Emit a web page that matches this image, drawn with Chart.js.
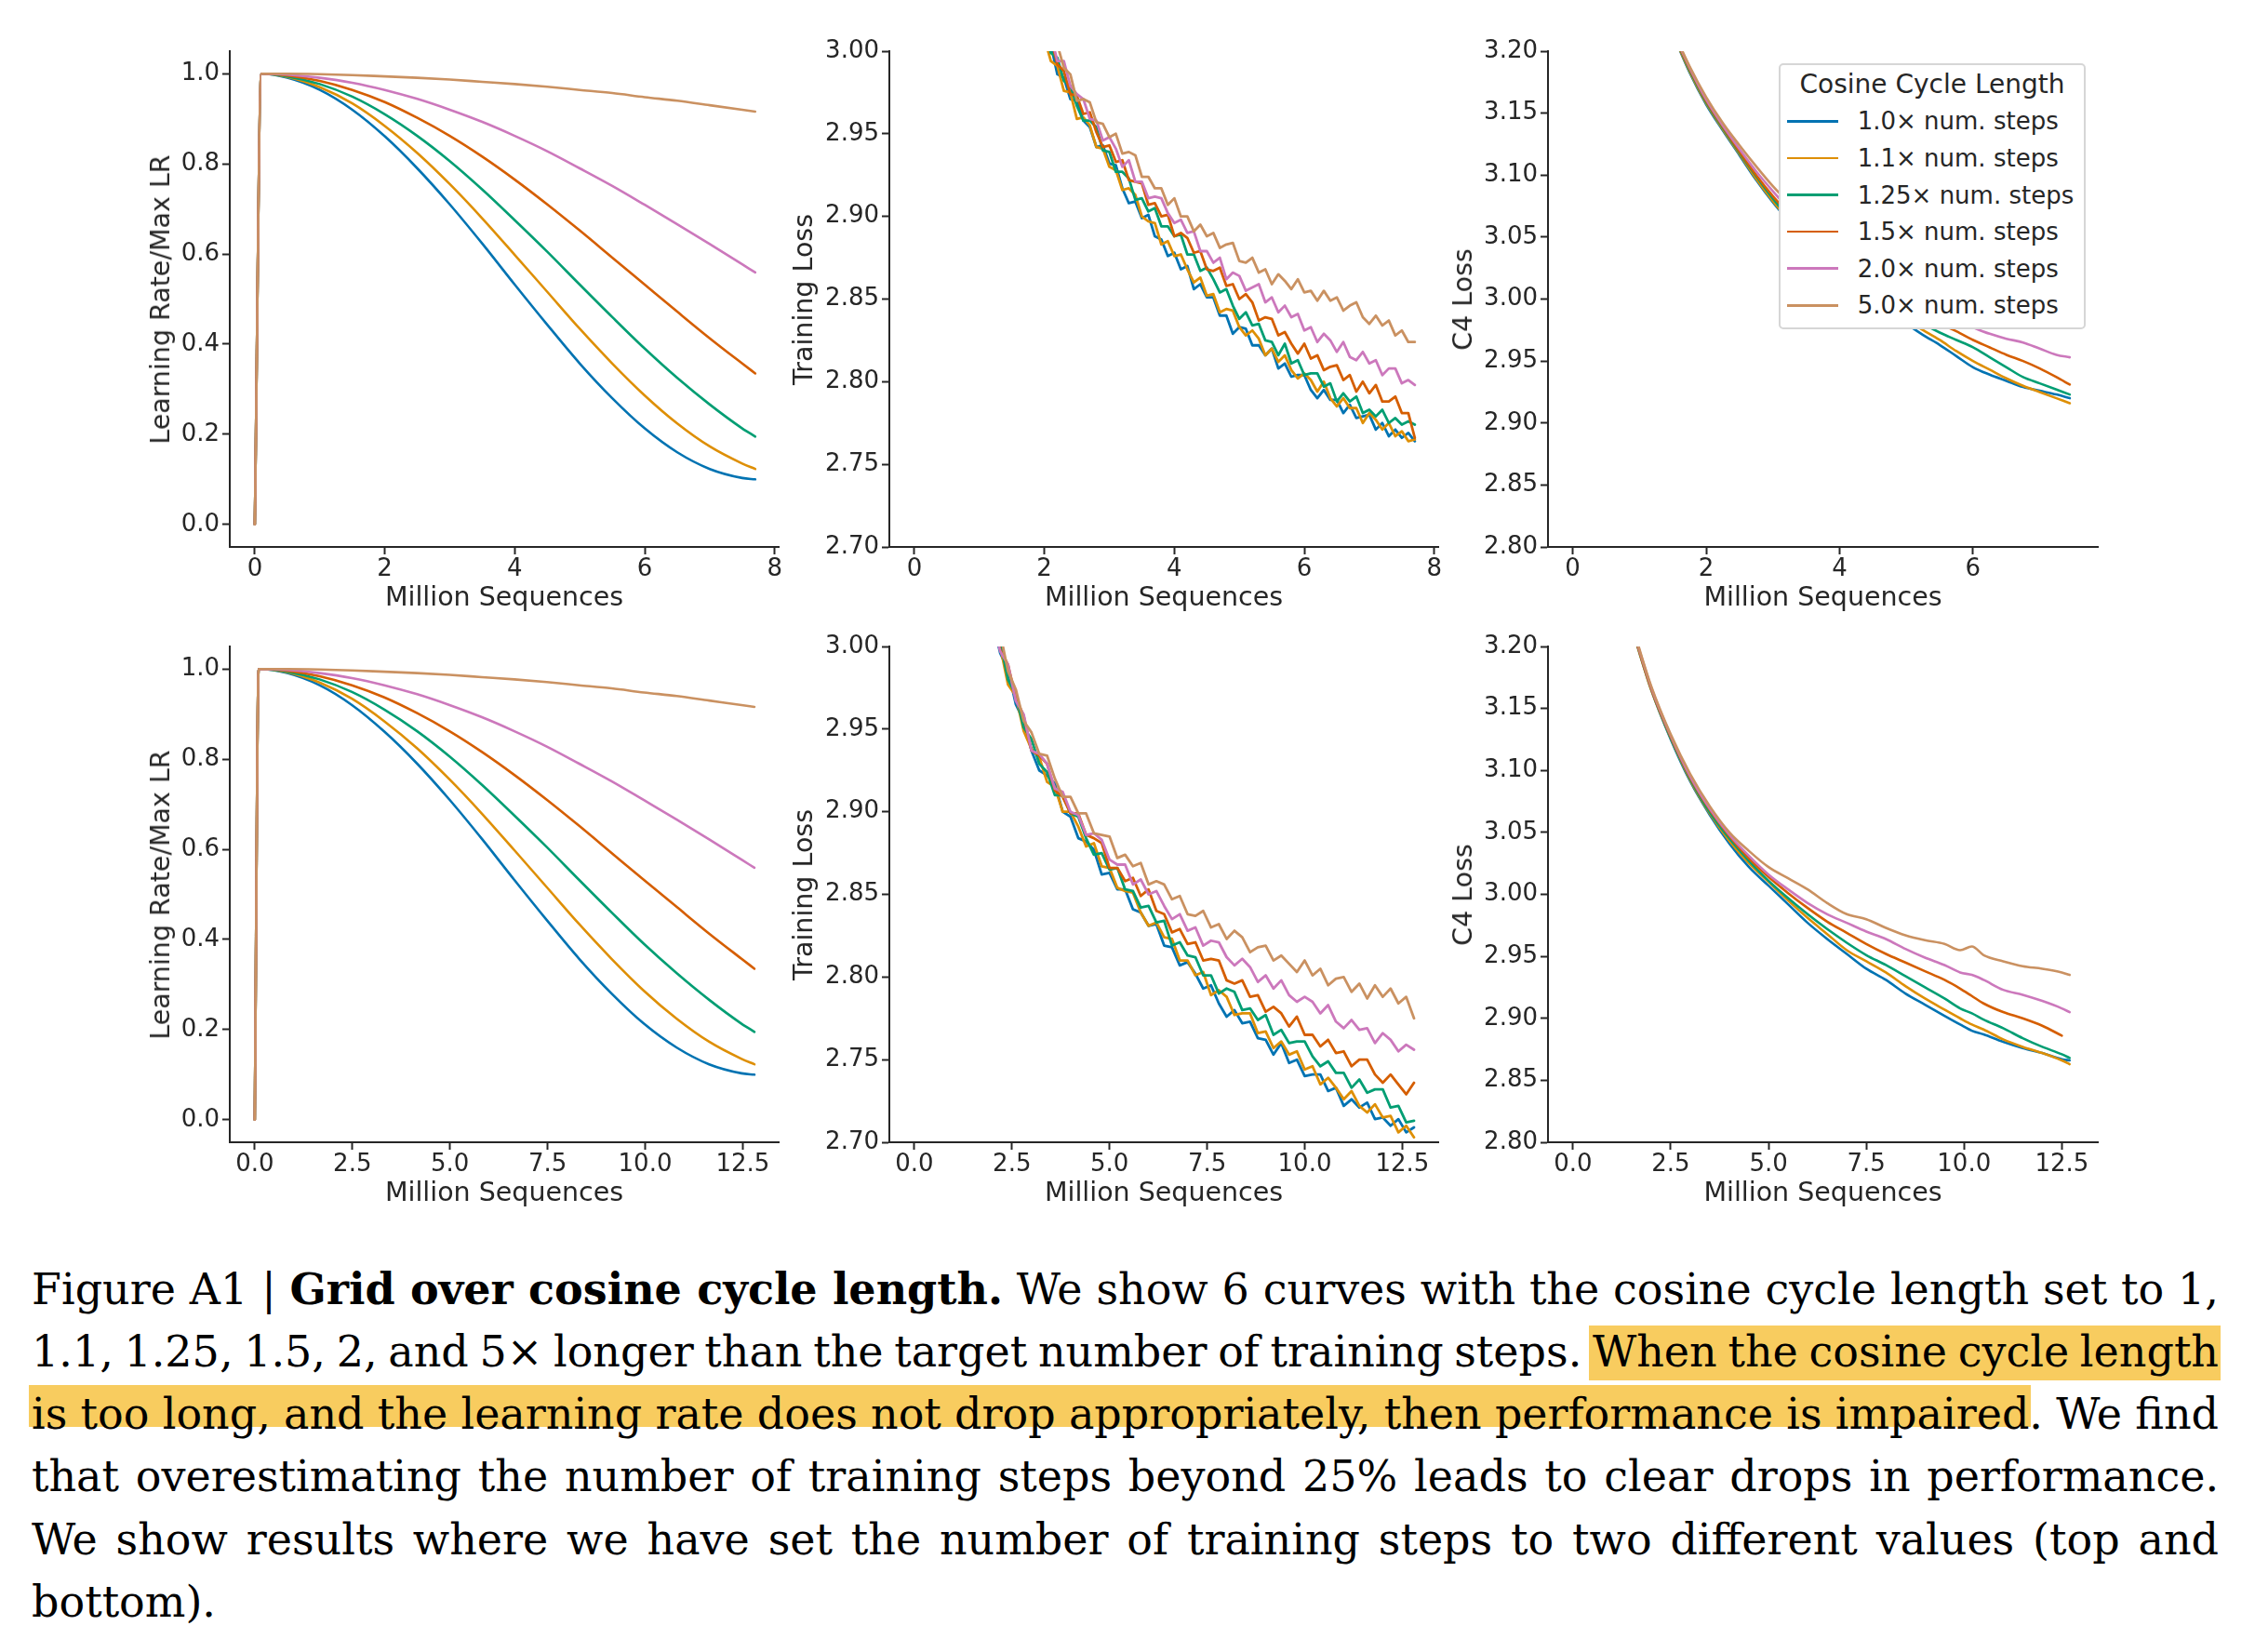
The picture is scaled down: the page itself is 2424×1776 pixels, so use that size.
<!DOCTYPE html>
<html><head><meta charset="utf-8">
<script src="https://cdn.jsdelivr.net/npm/chart.js@4.4.0/dist/chart.umd.min.js"></script>
<style>
html,body{margin:0;padding:0;background:#fff;}
body{width:2424px;height:1776px;position:relative;overflow:hidden;font-family:'DejaVu Sans',sans-serif;color:#262626;}
canvas{position:absolute;}
.xt{position:absolute;font-size:28.5px;line-height:34px;transform:translate(-50%,-50%);white-space:nowrap;}
.yt{position:absolute;font-size:28.5px;line-height:34px;transform:translate(-50%,-50%) rotate(-90deg);white-space:nowrap;}
#legend{position:absolute;left:1912px;top:68px;width:330px;height:286px;box-sizing:border-box;border:2px solid #d6d6d6;border-radius:5px;background:#fff;z-index:5;}
#legend .lt{position:absolute;left:0;width:100%;text-align:center;font-size:28px;line-height:34px;white-space:nowrap;}
#legend .li{position:absolute;height:2.6px;}
#legend .lx{position:absolute;font-size:26px;line-height:32px;white-space:nowrap;}
.cap{position:absolute;left:34px;top:0;font-family:'DejaVu Serif',serif;font-size:46px;color:#000;white-space:nowrap;line-height:normal;z-index:2;}
.hl{position:absolute;background:#f8cc5f;z-index:1;}
</style></head><body>
<div id="legend"></div>
<div class="cap" data-baseline="1402" data-justify="1">Figure A1 | <b>Grid over cosine cycle length.</b> We show 6 curves with the cosine cycle length set to 1,</div>
<div class="cap" data-baseline="1469" data-justify="1">1.1, 1.25, 1.5, 2, and 5× longer than the target number of training steps. <span id="h2span">When the cosine cycle length</span></div>
<div class="cap" data-baseline="1536" data-justify="1"><span id="h3span">is too long, and the learning rate does not drop appropriately, then performance is impaired</span>. We find</div>
<div class="cap" data-baseline="1603" data-justify="1">that overestimating the number of training steps beyond 25% leads to clear drops in performance.</div>
<div class="cap" data-baseline="1671" data-justify="1">We show results where we have set the number of training steps to two different values (top and</div>
<div class="cap" data-baseline="1738" data-justify="0">bottom).</div>
<script>
// ---------------- data ----------------
const seriesNames = ['1.0× num. steps', '1.1× num. steps', '1.25× num. steps', '1.5× num. steps', '2.0× num. steps', '5.0× num. steps'];
const colors = ['#0173b2', '#de8f05', '#029e73', '#d55e00', '#cc78bc', '#ca9161'];

const xTicksTop = [0, 2, 4, 6, 8];
const xTicksTopC4 = [0, 2, 4, 6];
const xTicksBottom = [0, 2.5, 5, 7.5, 10, 12.5];
const lrYTicks = [0, 0.2, 0.4, 0.6, 0.8, 1.0];
const tlYTicks = [2.70, 2.75, 2.80, 2.85, 2.90, 2.95, 3.00];
const c4YTicks = [2.80, 2.85, 2.90, 2.95, 3.00, 3.05, 3.10, 3.15, 3.20];

// Learning rate schedules (fraction of max LR)
const lrTopX = [0, 0.1, 0.5, 1.0, 1.5, 2.0, 2.5, 3.0, 3.5, 4.0, 4.5, 5.0, 5.5, 6.0, 6.5, 7.0, 7.5, 7.7];
const lrBotX = [0, 0.1, 0.83, 1.66, 2.49, 3.32, 4.16, 4.99, 5.82, 6.65, 7.48, 8.31, 9.14, 9.97, 10.81, 11.64, 12.47, 12.8];
const lrBlue   = [0, 1.0, 0.991, 0.964, 0.920, 0.861, 0.790, 0.710, 0.623, 0.532, 0.443, 0.357, 0.280, 0.213, 0.160, 0.123, 0.103, 0.100];
const lrOrange = [0, 1.0, 0.993, 0.970, 0.934, 0.884, 0.824, 0.755, 0.679, 0.598, 0.516, 0.434, 0.357, 0.286, 0.224, 0.173, 0.135, 0.123];
const lrGreen  = [0, 1.0, 0.994, 0.977, 0.949, 0.910, 0.862, 0.806, 0.743, 0.675, 0.605, 0.532, 0.460, 0.390, 0.325, 0.266, 0.213, 0.195];
const lrRed    = [0, 1.0, 0.996, 0.984, 0.964, 0.937, 0.902, 0.862, 0.816, 0.765, 0.710, 0.652, 0.592, 0.532, 0.472, 0.413, 0.357, 0.335];
const lrPink   = [0, 1.0, 0.998, 0.991, 0.980, 0.964, 0.944, 0.920, 0.893, 0.862, 0.828, 0.790, 0.751, 0.709, 0.666, 0.622, 0.577, 0.559];
const lrTan    = [0, 1.0, 1.000, 0.999, 0.997, 0.994, 0.991, 0.987, 0.982, 0.977, 0.971, 0.964, 0.957, 0.948, 0.940, 0.930, 0.920, 0.916];

// Training loss, top run
const tlTopX = [2.0,2.1,2.2,2.3,2.4,2.5,2.6,2.7,2.8,2.9,3.0,3.1,3.2,3.3,3.4,3.5,3.6,3.7,3.8,3.9,4.0,4.1,4.2,4.3,4.4,4.5,4.6,4.7,4.8,4.9,5.0,5.1,5.2,5.3,5.4,5.5,5.6,5.7,5.8,5.9,6.0,6.1,6.2,6.3,6.4,6.5,6.6,6.7,6.8,6.9,7.0,7.1,7.2,7.3,7.4,7.5,7.6,7.7];
const tlTopBlue = [3.012,3.004,2.986,2.984,2.971,2.970,2.958,2.954,2.942,2.943,2.932,2.931,2.917,2.908,2.909,2.899,2.901,2.888,2.886,2.876,2.878,2.868,2.870,2.856,2.859,2.851,2.851,2.840,2.840,2.829,2.833,2.832,2.822,2.822,2.816,2.820,2.808,2.811,2.803,2.804,2.804,2.795,2.790,2.795,2.789,2.789,2.781,2.786,2.778,2.779,2.780,2.771,2.775,2.767,2.771,2.766,2.769,2.764];
const tlTopOrange = [3.008,2.994,2.991,2.976,2.975,2.959,2.960,2.955,2.942,2.941,2.930,2.928,2.916,2.917,2.913,2.900,2.897,2.896,2.883,2.885,2.876,2.877,2.868,2.860,2.863,2.852,2.853,2.842,2.844,2.843,2.833,2.828,2.831,2.826,2.816,2.820,2.812,2.816,2.807,2.802,2.805,2.801,2.794,2.800,2.790,2.785,2.790,2.784,2.784,2.775,2.781,2.777,2.771,2.775,2.767,2.770,2.764,2.765];
const tlTopGreen = [3.014,2.999,2.996,2.982,2.979,2.967,2.958,2.958,2.954,2.940,2.939,2.927,2.927,2.923,2.910,2.911,2.903,2.905,2.894,2.894,2.888,2.889,2.877,2.877,2.867,2.869,2.862,2.854,2.856,2.846,2.838,2.842,2.834,2.835,2.825,2.824,2.816,2.823,2.811,2.813,2.804,2.805,2.805,2.797,2.799,2.788,2.793,2.788,2.791,2.781,2.783,2.779,2.783,2.775,2.778,2.774,2.776,2.774];
const tlTopRed = [3.016,3.008,2.992,2.988,2.974,2.973,2.962,2.963,2.951,2.942,2.943,2.933,2.934,2.922,2.921,2.920,2.907,2.908,2.900,2.901,2.888,2.890,2.887,2.878,2.879,2.868,2.867,2.869,2.858,2.859,2.850,2.853,2.848,2.837,2.839,2.838,2.828,2.830,2.823,2.817,2.823,2.814,2.816,2.807,2.809,2.810,2.801,2.804,2.794,2.800,2.793,2.798,2.788,2.788,2.791,2.781,2.781,2.766];
const tlTopPink = [3.015,3.010,2.994,2.994,2.979,2.974,2.971,2.959,2.958,2.946,2.948,2.941,2.930,2.934,2.921,2.921,2.911,2.912,2.911,2.902,2.896,2.898,2.890,2.891,2.879,2.879,2.872,2.875,2.862,2.866,2.864,2.855,2.857,2.859,2.848,2.851,2.842,2.846,2.839,2.841,2.831,2.833,2.824,2.829,2.825,2.818,2.824,2.815,2.813,2.818,2.811,2.813,2.804,2.808,2.808,2.799,2.801,2.798];
const tlTopTan = [3.020,3.006,3.004,2.990,2.986,2.970,2.971,2.969,2.957,2.956,2.948,2.950,2.938,2.939,2.937,2.924,2.924,2.917,2.917,2.907,2.911,2.900,2.900,2.891,2.895,2.888,2.890,2.881,2.883,2.884,2.873,2.872,2.875,2.866,2.868,2.859,2.865,2.861,2.856,2.862,2.854,2.855,2.849,2.855,2.849,2.851,2.843,2.846,2.848,2.839,2.835,2.840,2.834,2.837,2.828,2.831,2.824,2.824];

// Training loss, bottom run
const tlBotX = [2.0,2.2,2.4,2.6,2.8,3.0,3.2,3.4,3.6,3.8,4.0,4.2,4.4,4.6,4.8,5.0,5.2,5.4,5.6,5.8,6.0,6.2,6.4,6.6,6.8,7.0,7.2,7.4,7.6,7.8,8.0,8.2,8.4,8.6,8.8,9.0,9.2,9.4,9.6,9.8,10.0,10.2,10.4,10.6,10.8,11.0,11.2,11.4,11.6,11.8,12.0,12.2,12.4,12.6,12.8];
const tlBotBlue = [3.016,2.996,2.986,2.965,2.955,2.937,2.925,2.922,2.917,2.900,2.897,2.884,2.882,2.877,2.862,2.863,2.853,2.853,2.841,2.839,2.831,2.832,2.819,2.818,2.807,2.809,2.802,2.793,2.795,2.784,2.776,2.780,2.772,2.773,2.763,2.762,2.753,2.760,2.748,2.750,2.740,2.741,2.741,2.731,2.733,2.722,2.726,2.721,2.724,2.714,2.715,2.710,2.714,2.706,2.709];
const tlBotOrange = [3.012,3.000,2.977,2.970,2.949,2.938,2.933,2.918,2.915,2.900,2.900,2.891,2.879,2.881,2.867,2.866,2.854,2.852,2.851,2.839,2.831,2.833,2.824,2.823,2.810,2.810,2.801,2.803,2.789,2.792,2.788,2.777,2.778,2.778,2.766,2.767,2.757,2.761,2.753,2.755,2.744,2.746,2.735,2.739,2.733,2.726,2.731,2.722,2.718,2.723,2.715,2.716,2.706,2.710,2.703];
const tlBotGreen = [3.016,3.003,2.980,2.971,2.951,2.944,2.929,2.924,2.910,2.910,2.899,2.897,2.884,2.874,2.875,2.865,2.866,2.853,2.852,2.842,2.843,2.833,2.834,2.819,2.821,2.813,2.812,2.801,2.801,2.790,2.793,2.791,2.780,2.781,2.774,2.777,2.765,2.768,2.760,2.761,2.761,2.752,2.746,2.749,2.742,2.742,2.733,2.738,2.730,2.732,2.732,2.721,2.722,2.712,2.713];
const tlBotRed = [3.019,2.998,2.989,2.969,2.958,2.937,2.934,2.929,2.913,2.909,2.899,2.899,2.886,2.884,2.881,2.866,2.866,2.858,2.860,2.849,2.853,2.840,2.838,2.827,2.829,2.820,2.821,2.810,2.811,2.810,2.798,2.796,2.798,2.788,2.789,2.779,2.782,2.778,2.770,2.776,2.765,2.765,2.758,2.762,2.754,2.755,2.746,2.750,2.750,2.741,2.736,2.741,2.735,2.729,2.736];
const tlBotPink = [3.016,2.997,2.989,2.967,2.959,2.937,2.935,2.929,2.914,2.912,2.900,2.898,2.886,2.887,2.883,2.871,2.868,2.868,2.856,2.859,2.850,2.852,2.843,2.835,2.838,2.828,2.830,2.819,2.822,2.821,2.812,2.807,2.811,2.806,2.797,2.801,2.793,2.798,2.789,2.785,2.788,2.785,2.778,2.783,2.773,2.769,2.774,2.768,2.769,2.760,2.766,2.762,2.755,2.759,2.756];
const tlBotTan = [3.022,3.008,2.985,2.974,2.955,2.948,2.935,2.934,2.920,2.909,2.909,2.899,2.899,2.887,2.886,2.885,2.872,2.874,2.867,2.869,2.856,2.858,2.856,2.847,2.849,2.838,2.837,2.840,2.830,2.832,2.823,2.828,2.824,2.815,2.818,2.819,2.810,2.813,2.808,2.803,2.810,2.801,2.805,2.795,2.799,2.800,2.791,2.796,2.787,2.795,2.788,2.793,2.784,2.788,2.775];

// C4 evaluation loss, top run
const c4TopX = [1.5,1.75,2.0,2.25,2.5,2.75,3.0,3.25,3.5,3.75,4.0,4.25,4.5,4.75,5.0,5.25,5.5,5.75,6.0,6.25,6.5,6.75,7.0,7.25,7.45];
const c4TopBlue   = [3.214,3.183,3.157,3.136,3.116,3.096,3.078,3.062,3.047,3.033,3.020,3.009,2.998,2.989,2.980,2.971,2.963,2.954,2.945,2.939,2.934,2.929,2.926,2.923,2.920];
const c4TopOrange = [3.214,3.184,3.158,3.137,3.117,3.097,3.079,3.063,3.048,3.035,3.022,3.011,3.001,2.992,2.983,2.975,2.967,2.958,2.950,2.943,2.936,2.930,2.925,2.920,2.916];
const c4TopGreen  = [3.215,3.185,3.159,3.138,3.118,3.099,3.081,3.065,3.051,3.038,3.026,3.015,3.005,2.996,2.988,2.980,2.973,2.967,2.961,2.953,2.945,2.937,2.932,2.927,2.923];
const c4TopRed    = [3.215,3.186,3.160,3.139,3.119,3.100,3.083,3.068,3.054,3.042,3.031,3.021,3.011,3.002,2.994,2.987,2.980,2.974,2.967,2.961,2.955,2.950,2.944,2.937,2.931];
const c4TopPink   = [3.216,3.187,3.161,3.140,3.121,3.103,3.087,3.072,3.059,3.047,3.036,3.026,3.017,3.009,3.001,2.994,2.988,2.982,2.977,2.972,2.968,2.965,2.960,2.955,2.953];
const c4TopTan    = [3.217,3.188,3.163,3.142,3.124,3.107,3.091,3.077,3.064,3.053,3.043,3.034,3.026,3.019,3.013,3.007,3.002,2.998,2.994,2.991,2.988,2.985,2.983,2.981,2.979];

// C4 evaluation loss, bottom run
const c4BotX = [1.6,2.0,2.5,3.0,3.5,4.0,4.5,5.0,5.5,6.0,6.5,7.0,7.5,8.0,8.5,9.0,9.5,9.9,10.2,10.5,11.0,11.5,12.0,12.5,12.7];
const c4BotBlue   = [3.205,3.165,3.125,3.091,3.064,3.041,3.022,3.007,2.992,2.977,2.964,2.952,2.940,2.931,2.920,2.911,2.902,2.895,2.890,2.887,2.881,2.876,2.872,2.867,2.866];
const c4BotOrange = [3.205,3.165,3.126,3.092,3.065,3.043,3.025,3.010,2.995,2.981,2.968,2.955,2.946,2.937,2.926,2.916,2.907,2.900,2.895,2.891,2.883,2.877,2.872,2.866,2.863];
const c4BotGreen  = [3.206,3.166,3.126,3.093,3.066,3.045,3.027,3.011,2.997,2.984,2.972,2.961,2.951,2.943,2.934,2.925,2.916,2.908,2.904,2.899,2.892,2.884,2.877,2.871,2.868];
const c4BotRed    = [3.206,3.166,3.127,3.094,3.068,3.047,3.029,3.014,3.001,2.989,2.978,2.969,2.960,2.952,2.945,2.938,2.931,2.924,2.918,2.912,2.905,2.900,2.894,2.886,null];
const c4BotPink   = [3.207,3.167,3.128,3.095,3.069,3.048,3.031,3.016,3.004,2.993,2.984,2.977,2.970,2.964,2.956,2.949,2.943,2.937,2.935,2.931,2.923,2.919,2.914,2.908,2.905];
const c4BotTan    = [3.208,3.168,3.129,3.097,3.071,3.050,3.035,3.022,3.013,3.004,2.993,2.984,2.980,2.973,2.967,2.963,2.960,2.955,2.958,2.951,2.946,2.942,2.940,2.937,2.935];

// ---------------- drawing ----------------
Chart.defaults.font.family = "'DejaVu Sans'";
const INK = '#262626';
const fmtInt = v => String(Math.round(v));
const fmt1 = v => v.toFixed(1);
const fmt2 = v => v.toFixed(2);

const panels = [
  {L:247, T:55, R:837, B:588, xMin:-0.385, xMax:8.06, xTicks:xTicksTop, xFmt:fmtInt, yMin:-0.05, yMax:1.05, yTicks:lrYTicks, yFmt:fmt1, x:lrTopX, series:[lrBlue,lrOrange,lrGreen,lrRed,lrPink,lrTan], smooth:true, lw:2.6, ylab:'Learning Rate/Max LR', ylx:173},
  {L:956, T:55, R:1546, B:588, xMin:-0.385, xMax:8.06, xTicks:xTicksTop, xFmt:fmtInt, yMin:2.70, yMax:3.00, yTicks:tlYTicks, yFmt:fmt2, x:tlTopX, series:[tlTopBlue,tlTopOrange,tlTopGreen,tlTopRed,tlTopPink,tlTopTan], smooth:false, lw:2.8, ylab:'Training Loss', ylx:864},
  {L:1664, T:55, R:2255, B:588, xMin:-0.371, xMax:7.87, xTicks:xTicksTopC4, xFmt:fmtInt, yMin:2.80, yMax:3.20, yTicks:c4YTicks, yFmt:fmt2, x:c4TopX, series:[c4TopBlue,c4TopOrange,c4TopGreen,c4TopRed,c4TopPink,c4TopTan], smooth:true, lw:2.6, ylab:'C4 Loss', ylx:1573},
  {L:247, T:695, R:837, B:1228, xMin:-0.64, xMax:13.42, xTicks:xTicksBottom, xFmt:fmt1, yMin:-0.05, yMax:1.05, yTicks:lrYTicks, yFmt:fmt1, x:lrBotX, series:[lrBlue,lrOrange,lrGreen,lrRed,lrPink,lrTan], smooth:true, lw:2.6, ylab:'Learning Rate/Max LR', ylx:173},
  {L:956, T:695, R:1546, B:1228, xMin:-0.64, xMax:13.42, xTicks:xTicksBottom, xFmt:fmt1, yMin:2.70, yMax:3.00, yTicks:tlYTicks, yFmt:fmt2, x:tlBotX, series:[tlBotBlue,tlBotOrange,tlBotGreen,tlBotRed,tlBotPink,tlBotTan], smooth:false, lw:2.8, ylab:'Training Loss', ylx:864},
  {L:1664, T:695, R:2255, B:1228, xMin:-0.64, xMax:13.42, xTicks:xTicksBottom, xFmt:fmt1, yMin:2.80, yMax:3.20, yTicks:c4YTicks, yFmt:fmt2, x:c4BotX, series:[c4BotBlue,c4BotOrange,c4BotGreen,c4BotRed,c4BotPink,c4BotTan], smooth:true, lw:2.6, ylab:'C4 Loss', ylx:1573}
];

function addText(cls, txt, cx, cy) {
  const d = document.createElement('div');
  d.className = cls; d.textContent = txt;
  d.style.left = cx + 'px'; d.style.top = cy + 'px';
  document.body.appendChild(d);
}

function makeChart(p) {
  const padL = 130, padT = 40, padR = 60, padB = 60;
  const W = (p.R - p.L) + padL + padR, H = (p.B - p.T) + padT + padB;
  const c = document.createElement('canvas');
  c.width = W; c.height = H;
  c.style.left = (p.L - padL) + 'px'; c.style.top = (p.T - padT) + 'px';
  c.style.width = W + 'px'; c.style.height = H + 'px';
  document.body.appendChild(c);
  const datasets = p.series.map((ys, i) => ({
    label: seriesNames[i],
    data: p.x.map((x, j) => ({x: x, y: ys[j]})),
    borderColor: colors[i], backgroundColor: colors[i],
    borderWidth: p.lw, pointRadius: 0, pointHoverRadius: 0, fill: false,
    cubicInterpolationMode: p.smooth ? 'monotone' : 'default', tension: 0,
    borderJoinStyle: 'round', borderCapStyle: 'round',
    order: colors.length - i
  }));
  const tickFont = {size: 26, family: "'DejaVu Sans'"};
  new Chart(c, {
    type: 'line',
    data: {datasets: datasets},
    options: {
      responsive: false, animation: false, devicePixelRatio: 1, events: [],
      layout: {padding: {left: 0, top: padT, right: padR, bottom: 0}},
      plugins: {legend: {display: false}, tooltip: {enabled: false}, title: {display: false}},
      scales: {
        x: {type: 'linear', position: 'bottom', min: p.xMin, max: p.xMax,
            afterFit: s => { s.height = padB; },
            afterBuildTicks: s => { s.ticks = p.xTicks.map(v => ({value: v})); },
            ticks: {callback: v => p.xFmt(v), font: tickFont, color: INK, padding: 1, maxRotation: 0, minRotation: 0, autoSkip: false},
            grid: {display: true, drawOnChartArea: false, drawTicks: true, tickLength: 8, tickWidth: 2, tickColor: INK},
            border: {display: true, color: INK, width: 2}},
        y: {type: 'linear', position: 'left', min: p.yMin, max: p.yMax,
            afterFit: s => { s.width = padL; },
            afterBuildTicks: s => { s.ticks = p.yTicks.map(v => ({value: v})); },
            ticks: {callback: v => p.yFmt(v), font: tickFont, color: INK, padding: 3, autoSkip: false},
            grid: {display: true, drawOnChartArea: false, drawTicks: true, tickLength: 8, tickWidth: 2, tickColor: INK},
            border: {display: true, color: INK, width: 2}}
      }
    }
  });
  addText('xt', 'Million Sequences', (p.L + p.R) / 2, p.B + 54);
  addText('yt', p.ylab, p.ylx, (p.T + p.B) / 2);
}
panels.forEach(makeChart);

// legend
(function () {
  const lg = document.getElementById('legend');
  const t = document.createElement('div');
  t.className = 'lt'; t.textContent = 'Cosine Cycle Length';
  t.style.top = (22.8 - 17 - 2) + 'px';
  lg.appendChild(t);
  seriesNames.forEach((n, i) => {
    const cy = 62.3 + i * 39.6 - 2;
    const ln = document.createElement('div');
    ln.className = 'li'; ln.style.background = colors[i];
    ln.style.left = (8.7 - 2) + 'px'; ln.style.width = '55px'; ln.style.top = (cy - 1.3) + 'px';
    lg.appendChild(ln);
    const tx = document.createElement('div');
    tx.className = 'lx'; tx.textContent = n;
    tx.style.left = (84.7 - 2) + 'px'; tx.style.top = (cy - 16) + 'px';
    lg.appendChild(tx);
  });
})();

// caption layout
(function () {
  const left = 34, right = 2385;
  document.querySelectorAll('.cap').forEach(d => {
    if (d.dataset.justify === '1') {
      const w = d.getBoundingClientRect().width;
      const n = (d.textContent.match(/ /g) || []).length;
      const extra = (right - left) - w;
      d.style.wordSpacing = (extra / n) + 'px';
    }
    const m = document.createElement('span');
    m.style.cssText = 'display:inline-block;width:0;height:0;vertical-align:baseline';
    d.appendChild(m);
    const off = m.getBoundingClientRect().bottom - d.getBoundingClientRect().top;
    d.style.top = (+d.dataset.baseline - off) + 'px';
  });
  function hl(x, y, w, h) {
    const e = document.createElement('div');
    e.className = 'hl';
    e.style.left = x + 'px'; e.style.top = y + 'px'; e.style.width = w + 'px'; e.style.height = h + 'px';
    document.body.appendChild(e);
  }
  const r2 = document.getElementById('h2span').getBoundingClientRect();
  hl(r2.left - 4, 1425, 2387 - (r2.left - 4), 59);
  const r3 = document.getElementById('h3span').getBoundingClientRect();
  hl(31, 1489, r3.right + 2 - 31, 45);
})();
</script>
</body></html>
